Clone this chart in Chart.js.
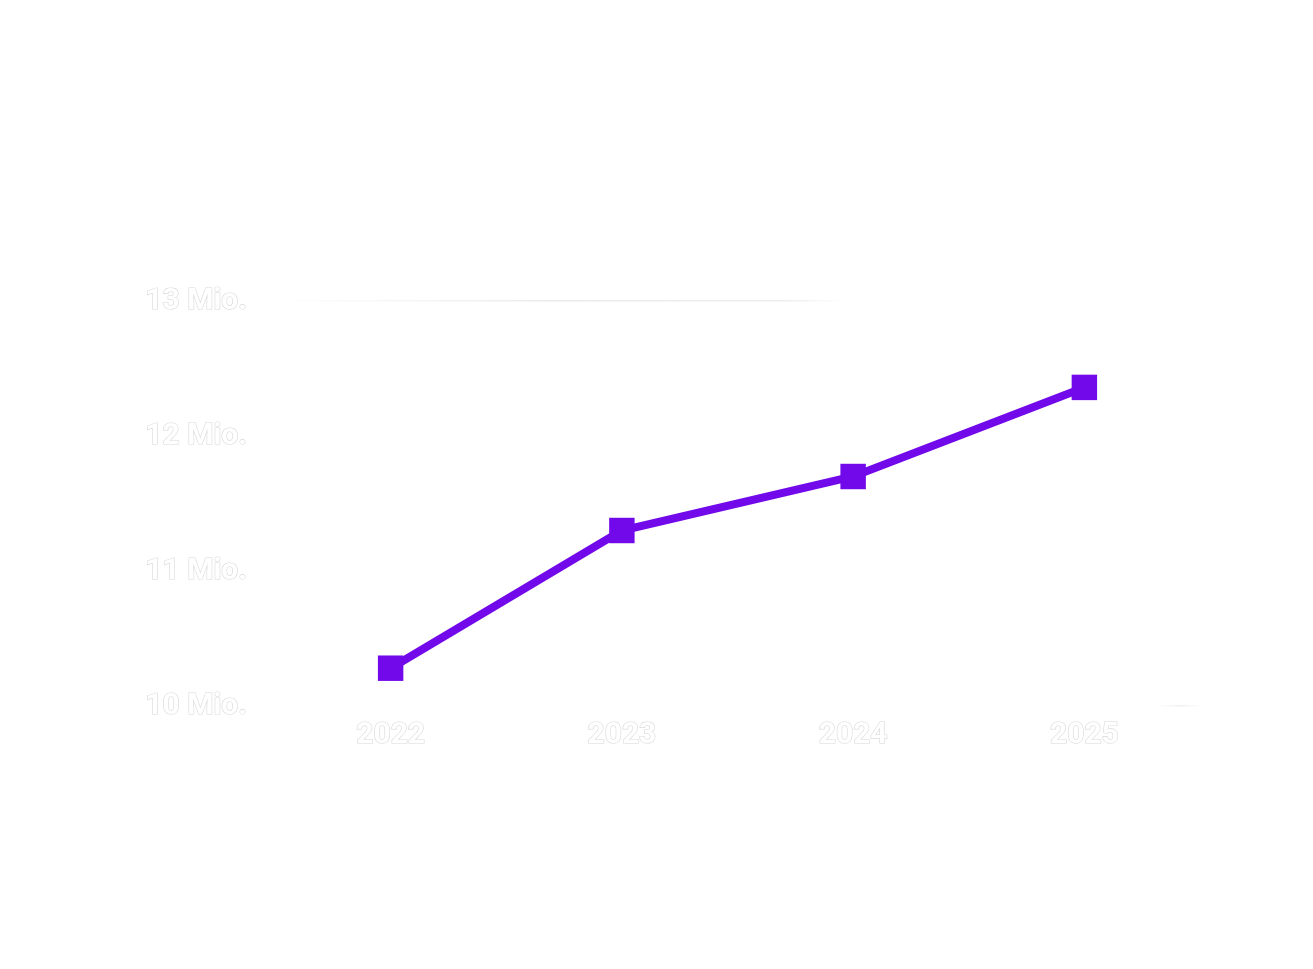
<!DOCTYPE html>
<html>
<head>
<meta charset="utf-8">
<script src="https://cdn.jsdelivr.net/npm/chart.js@4/dist/chart.umd.min.js"></script>
<style>
html,body{margin:0;padding:0;background:#ffffff;}
#wrap{width:1313px;height:969px;position:relative;}
</style>
</head>
<body>
<div id="wrap"><canvas id="c" width="1313" height="969"></canvas></div>
<script>
const categories = ['2022', '2023', '2024', '2025'];
const values = [10.28, 11.30, 11.70, 12.36];
const yTickValues = [10, 11, 12, 13];
const yTickSuffix = ' Mio.';

const purple = '#7209ea';

function gridColor(ctx) {
  const chart = ctx.chart;
  const a = chart.chartArea;
  if (!a) return 'rgba(0,0,0,0)';
  const w = a.right - a.left;
  const g = chart.ctx.createLinearGradient(a.left, 0, a.right, 0);
  if (ctx.index === 3) {
    g.addColorStop(0, 'rgba(230,230,230,0)');
    g.addColorStop(0.3, 'rgba(230,230,230,0.8)');
    g.addColorStop(0.55, 'rgba(230,230,230,0.7)');
    g.addColorStop(0.62, 'rgba(230,230,230,0)');
    g.addColorStop(1, 'rgba(230,230,230,0)');
    return g;
  }
  if (ctx.index === 0) {
    g.addColorStop(0, 'rgba(235,235,235,0)');
    g.addColorStop(0.955, 'rgba(235,235,235,0)');
    g.addColorStop(0.98, 'rgba(235,235,235,0.8)');
    g.addColorStop(1, 'rgba(235,235,235,0)');
    return g;
  }
  return 'rgba(0,0,0,0)';
}

new Chart(document.getElementById('c'), {
  type: 'line',
  data: {
    labels: categories,
    datasets: [{
      data: values,
      borderColor: purple,
      backgroundColor: purple,
      borderWidth: 8,
      pointStyle: 'rect',
      pointRadius: 18,
      pointHoverRadius: 18,
      pointBorderWidth: 0,
      pointBackgroundColor: purple,
      tension: 0,
      fill: false
    }]
  },
  options: {
    responsive: false,
    animation: false,
    devicePixelRatio: 1,
    layout: { padding: { left: 147, right: 113, top: 301, bottom: 213 } },
    plugins: { legend: { display: false }, tooltip: { enabled: false } },
    scales: {
      x: {
        offset: true,
        grid: { display: false },
        border: { display: false },
        afterFit: s => { s.height = 50; },
        ticks: {
          padding: 3,
          color: '#ffffff',
          textStrokeColor: '#d8d8d8',
          textStrokeWidth: 1.2,
          font: { family: 'Roboto', size: 30, weight: 'bold' }
        }
      },
      y: {
        min: 10,
        max: 13,
        afterFit: s => { s.width = 128; },
        afterBuildTicks: s => { s.ticks = yTickValues.map(v => ({ value: v })); },
        border: { display: false },
        grid: {
          drawTicks: false,
          lineWidth: 1.5,
          color: gridColor
        },
        ticks: {
          padding: 28,
          color: '#ffffff',
          textStrokeColor: '#d8d8d8',
          textStrokeWidth: 1.2,
          font: { family: 'Roboto', size: 30, weight: 'bold' },
          callback: v => v + yTickSuffix
        }
      }
    }
  }
});
</script>
</body>
</html>
